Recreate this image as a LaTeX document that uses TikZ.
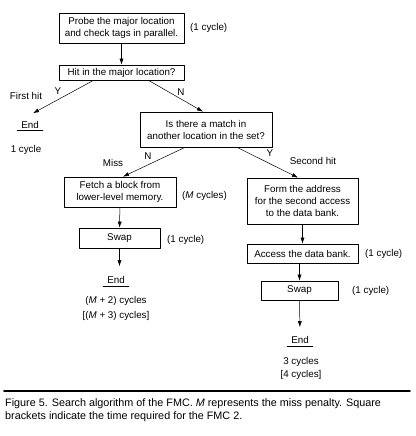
\documentclass[tikz,border=0pt]{standalone}
\usepackage{fontspec}
\setmainfont{Liberation Sans}
\usetikzlibrary{arrows.meta}
\newcommand{\figfont}{\fontsize{9.8}{12}\selectfont}
\tikzset{
  stepbox/.style={draw, line width=0.7pt, align=center, inner sep=0pt, font=\figfont},
  endnode/.style={inner xsep=4pt, inner ysep=2pt, font=\figfont},
  note/.style={inner sep=0pt, font=\figfont},
  flow/.style={line width=0.5pt, -{Latex[length=6pt,width=4pt]}},
}
\begin{document}
\begin{tikzpicture}
% flow chart of the search, all sizes in points
\def\unitsz{1pt}
\providecommand{\ruleWidth}{1.6pt}
\begin{scope}[x=\unitsz, y=-\unitsz, line cap=round, line join=round]
  \useasboundingbox (0,0) rectangle (415,436);
  % Boxes
  \node[stepbox, minimum width=125pt, minimum height=30pt] (probe) at (121.5,28) {Probe the major location\\and check tags in parallel.};
  \node[stepbox, minimum width=125pt, minimum height=15pt] (hit) at (121.5,72.5) {Hit in the major location?};
  \node[stepbox, minimum width=132pt, minimum height=35pt] (match) at (206,129.5) {Is there a match in\\another location in the set?};
  \node[stepbox, minimum width=112pt, minimum height=30pt] (fetch) at (120,192) {Fetch a block from\\lower-level memory.};
  \node[stepbox, minimum width=81pt, minimum height=20pt] (swapA) at (119.5,238) {Swap};
  \node[stepbox, minimum width=111pt, minimum height=46pt] (form) at (302.5,201) {Form the address\\for the second access\\to the data bank.};
  \node[stepbox, minimum width=111pt, minimum height=19pt] (access) at (302.5,253.5) {Access the data bank.};
  \node[stepbox, minimum width=77pt, minimum height=19pt] (swapB) at (299.5,290.5) {Swap};
  % End points
  \node[endnode] (endA) at (30,125) {End};
  \node[endnode] (endB) at (116,280) {End};
  \node[endnode] (endC) at (300,340) {End};
  \draw[line width=0.6pt] (endA.south west) -- (endA.south east);
  \draw[line width=0.6pt] (endB.south west) -- (endB.south east);
  \draw[line width=0.6pt] (endC.south west) -- (endC.south east);
  % Cycle counts
  \node[note, anchor=west] (cycProbe) at (190,28) {(1 cycle)};
  \node[note, anchor=west] (cycFetch) at (182,196) {(\textit{M} cycles)};
  \node[note, anchor=west] (cycSwapA) at (167,240) {(1 cycle)};
  \node[note, anchor=west] (cycAccess) at (365,254) {(1 cycle)};
  \node[note, anchor=west] (cycSwapB) at (352,290.5) {(1 cycle)};
  \node[note] (totA) at (26,150) {1 cycle};
  \node[note, align=center, font=\fontsize{9.8}{15}\selectfont] (totB) at (116,308) {(\textit{M} + 2) cycles\\{}[(\textit{M} + 3) cycles]};
  \node[note, align=center, font=\fontsize{9.8}{13}\selectfont] (totC) at (301,368) {3 cycles\\{}[4 cycles]};
  % Branch labels
  \node[note] (yesA) at (58,91) {Y};
  \node[note] (noA) at (181,92) {N};
  \node[note] (firstHit) at (26,96) {First hit};
  \node[note] (noB) at (148,156) {N};
  \node[note] (miss) at (113,163) {Miss};
  \node[note] (yesB) at (270,153) {Y};
  \node[note] (secondHit) at (313,161) {Second hit};
  % Connectors
  \draw[flow] (probe) -- (hit);
  \draw[flow] ([xshift=-28pt]hit.south) -- ([xshift=3pt, yshift=6pt]endA.north);
  \draw[flow] ([xshift=27pt]hit.south) -- ([xshift=-3pt]match.north);
  \draw[flow] ([xshift=-21pt]match.south) -- ([xshift=3pt]fetch.north);
  \draw[flow] ([xshift=31pt]match.south) -- ([xshift=-4.5pt]form.north);
  \draw[flow] (fetch) -- (swapA);
  \draw[flow, shorten >=8pt] (swapA.south) -- ([xshift=3.5pt]endB.north);
  \draw[flow] (form) -- (access);
  \draw[flow] ([xshift=-3pt]access.south) -- (swapB.north);
  \draw[flow, shorten >=7pt] (swapB.south) -- (endC.north);
  % Caption
  \draw[line width=\ruleWidth] (4,391) -- (410,391);
  \node[note, anchor=north west, align=left, font=\fontsize{10.8}{13}\selectfont] (caption) at (5,398.5) {Figure 5. Search algorithm of the FMC. \textit{M} represents the miss penalty. Square\\brackets indicate the time required for the FMC 2.};
\end{scope}
\end{tikzpicture}
\end{document}
